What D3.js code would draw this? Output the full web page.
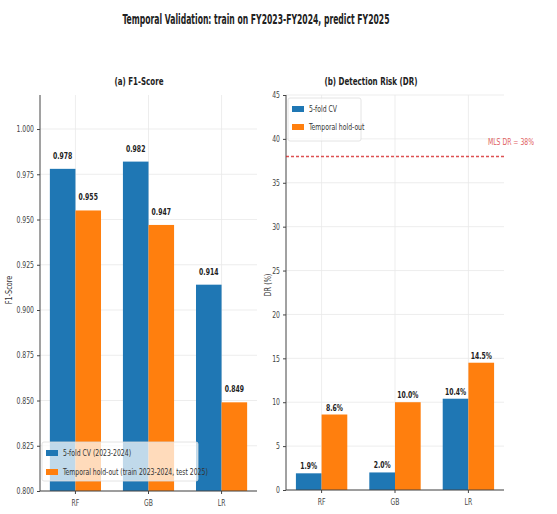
<!DOCTYPE html>
<html>
<head>
<meta charset="utf-8">
<script src="https://cdn.jsdelivr.net/npm/d3@7"></script>
<style>
  html, body { margin: 0; padding: 0; background: #fff; }
  svg text { font-family: "DejaVu Sans Condensed", "Liberation Sans Narrow", "DejaVu Sans", sans-serif; }
</style>
</head>
<body>
<svg id="chart" width="557" height="514"></svg>
<script>
// Models compared
const models = ["RF", "GB", "LR"];

// (a) F1-score per model
const f1CV = [0.978, 0.982, 0.914];
const f1Temporal = [0.955, 0.947, 0.849];
const f1Ticks = [0.800, 0.825, 0.850, 0.875, 0.900, 0.925, 0.950, 0.975, 1.000];

// (b) Detection risk (%) per model
const drCV = [1.9, 2.0, 10.4];
const drTemporal = [8.6, 10.0, 14.5];
const drTicks = [0, 5, 10, 15, 20, 25, 30, 35, 40, 45];
const drThreshold = 38;

const seriesColors = ["#1f77b4", "#ff7f0e"];

const svg = d3.select("#chart");

// narrow a text element horizontally to a fraction of its natural width
function squeeze(sel, k) {
  sel.each(function () {
    const w = this.getComputedTextLength();
    d3.select(this).attr("textLength", w * k).attr("lengthAdjust", "spacingAndGlyphs");
  });
}

const title = svg.append("text")
  .attr("x", 256).attr("y", 24)
  .attr("text-anchor", "middle")
  .attr("font-size", 13.5).attr("font-weight", "bold")
  .attr("fill", "#222")
  .text("Temporal Validation: train on FY2023-FY2024, predict FY2025");
title.attr("textLength", 267).attr("lengthAdjust", "spacingAndGlyphs");

function panel(opts) {
  const g = svg.append("g");
  const { left, right, top, bottom } = opts;

  const x = d3.scaleBand().domain(models).range([left, right]).paddingInner(0.3).paddingOuter(0.135);
  const y = d3.scaleLinear().domain(opts.yDomain).range([bottom, top]);
  const bw = x.bandwidth() / 2;

  // grid
  g.append("g").selectAll("line").data(opts.ticks).join("line")
    .attr("x1", left).attr("x2", right)
    .attr("y1", d => y(d)).attr("y2", d => y(d))
    .attr("stroke", "#e8e8e8").attr("stroke-width", 0.8);
  g.append("g").selectAll("line").data(models).join("line")
    .attr("x1", d => x(d) + bw).attr("x2", d => x(d) + bw)
    .attr("y1", top).attr("y2", bottom)
    .attr("stroke", "#e8e8e8").attr("stroke-width", 0.8);

  // bars with value labels
  const series = [opts.a, opts.b];
  series.forEach((vals, si) => {
    g.append("g").selectAll("rect").data(vals).join("rect")
      .attr("x", (d, i) => x(models[i]) + si * bw)
      .attr("y", d => y(d))
      .attr("width", bw)
      .attr("height", d => bottom - y(d))
      .attr("fill", seriesColors[si]);
    g.append("g").selectAll("text").data(vals).join("text")
      .attr("class", "sq")
      .attr("x", (d, i) => x(models[i]) + si * bw + bw / 2)
      .attr("y", d => y(d) - opts.labelGap)
      .attr("text-anchor", "middle")
      .attr("font-size", 8.5).attr("font-weight", "bold")
      .attr("fill", "#222")
      .text(opts.fmt);
  });

  // axes
  const yAxis = d3.axisLeft(y).tickValues(opts.ticks).tickFormat(opts.tickFmt).tickSize(3).tickPadding(3);
  const ya = g.append("g").attr("transform", `translate(${left},0)`).call(yAxis);
  ya.attr("font-family", null);
  ya.select(".domain").attr("stroke", "#444").attr("d", `M0,${top}V${bottom}`);
  ya.selectAll(".tick line").attr("stroke", "#444");
  ya.selectAll("text").attr("class", "sq").attr("font-size", 8.5).attr("fill", "#444");

  const xAxis = d3.axisBottom(x).tickSize(3).tickPadding(6);
  const xa = g.append("g").attr("transform", `translate(0,${bottom})`).call(xAxis);
  xa.attr("font-family", null);
  xa.select(".domain").attr("stroke", "#444").attr("d", `M${left},0H${right}`);
  xa.selectAll(".tick line").attr("stroke", "#444");
  xa.selectAll("text").attr("class", "sq").attr("font-size", 8.5).attr("fill", "#444");

  g.append("text")
    .attr("x", opts.titleX).attr("y", 85)
    .attr("text-anchor", "middle").attr("font-size", 10.5).attr("font-weight", "bold")
    .attr("fill", "#222").text(opts.title)
    .attr("textLength", opts.titleW).attr("lengthAdjust", "spacingAndGlyphs");

  g.append("text")
    .attr("class", "sq")
    .attr("transform", `translate(${opts.ylabelX},${opts.ylabelY}) rotate(-90)`)
    .attr("text-anchor", "middle").attr("font-size", 9).attr("fill", "#333")
    .text(opts.ylabel);

  return { g, x, y };
}

// (a) F1-score panel
const pa = panel({
  left: 40, right: 257, top: 95, bottom: 491,
  yDomain: [0.8, 1.0188], ticks: f1Ticks, tickFmt: d3.format(".3f"),
  a: f1CV, b: f1Temporal, fmt: d3.format(".3f"), labelGap: 10,
  title: "(a) F1-Score", titleX: 139, titleW: 49,
  ylabel: "F1-Score", ylabelX: 12, ylabelY: 290
});

// (b) Detection risk panel
const pb = panel({
  left: 286, right: 504, top: 95, bottom: 490,
  yDomain: [0, 45], ticks: drTicks, tickFmt: d3.format("d"),
  a: drCV, b: drTemporal, fmt: d => d.toFixed(1) + "%", labelGap: 4,
  title: "(b) Detection Risk (DR)", titleX: 371, titleW: 93,
  ylabel: "DR (%)", ylabelX: 271, ylabelY: 285
});

// threshold line
pb.g.append("line")
  .attr("x1", 286).attr("x2", 504)
  .attr("y1", pb.y(drThreshold)).attr("y2", pb.y(drThreshold))
  .attr("stroke", "#d62728").attr("stroke-width", 1.5).attr("stroke-dasharray", "3,2").attr("opacity", 0.8);
pb.g.append("text")
  .attr("class", "sq")
  .attr("x", 534).attr("y", pb.y(drThreshold) - 11)
  .attr("text-anchor", "end").attr("font-size", 8.5).attr("fill", "#d62728").attr("opacity", 0.75)
  .text("MLS DR = " + drThreshold + "%");

// legends
function legend(g, x0, y0, w, h, rowGap, labels) {
  const lg = g.append("g").attr("transform", `translate(${x0},${y0})`);
  lg.append("rect").attr("width", w).attr("height", h)
    .attr("rx", 2).attr("fill", "#fff").attr("fill-opacity", 0.72)
    .attr("stroke", "#ddd").attr("stroke-width", 0.8);
  labels.forEach((t, i) => {
    const cy = 11 + i * rowGap;
    lg.append("rect").attr("x", 4).attr("y", cy - 3).attr("width", 12).attr("height", 6)
      .attr("fill", seriesColors[i]);
    lg.append("text").attr("class", "sq").attr("x", 21).attr("y", cy + 3)
      .attr("font-size", 8.5).attr("fill", "#333").text(t);
  });
}
legend(pa.g, 42, 442, 156, 39, 19, ["5-fold CV (2023-2024)", "Temporal hold-out (train 2023-2024, test 2025)"]);
legend(pb.g, 288, 98, 73, 43, 18, ["5-fold CV", "Temporal hold-out"]);

squeeze(svg.selectAll("text.sq"), 0.8);
</script>
</body>
</html>
